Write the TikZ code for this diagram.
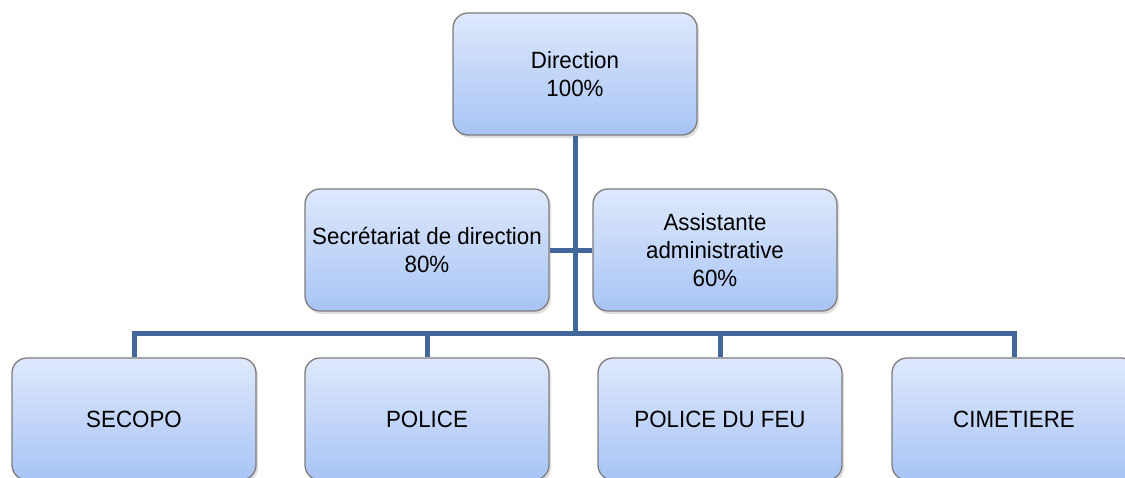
\documentclass[tikz,border=0pt]{standalone}
\usepackage{fontspec}
\setmainfont[FakeStretch=0.95]{Liberation Sans}
\usetikzlibrary{shadows}
\definecolor{boxtop}{RGB}{222,232,251}
\definecolor{boxbot}{RGB}{168,196,245}
\definecolor{boxline}{RGB}{125,125,125}
\definecolor{linkblue}{RGB}{68,103,154}
\tikzset{
  orgbox/.style={draw=boxline, line width=1.3pt, rounded corners=15pt,
    top color=boxtop, bottom color=boxbot,
    minimum width=244pt, minimum height=122pt, align=center,
    font=\fontsize{23.5}{28}\selectfont,
    drop shadow={opacity=0.25, shadow xshift=2pt, shadow yshift=-3pt}},
  link/.style={draw=linkblue, line width=5pt}
}
\begin{document}
\begin{tikzpicture}[x=1pt,y=-1pt]
			\useasboundingbox (0,0) rectangle (1125,477);
			\node[orgbox] (dir) at (575,74) {Direction\\100\%};
			\node[orgbox] (sec) at (427,250) {Secrétariat de direction\\80\%};
			\node[orgbox] (asst) at (715,250) {Assistante\\administrative\\60\%};
			\foreach \x/\n/\t in {134/b1/SECOPO,427/b2/POLICE,720/b3/POLICE DU FEU,1014/b4/CIMETIERE}
			\node[orgbox] (\n) at (\x,419) {\t};
			\coordinate (bus) at (575,333);
			\draw[link] (dir.south)--(bus) (sec.east)--(asst.west);
			\draw[link] (b1.north) |- (bus) -| (b4.north);
			\draw[link] (b2.north)--(b2.north|-bus) (b3.north)--(b3.north|-bus);
		\end{tikzpicture}
\end{document}
